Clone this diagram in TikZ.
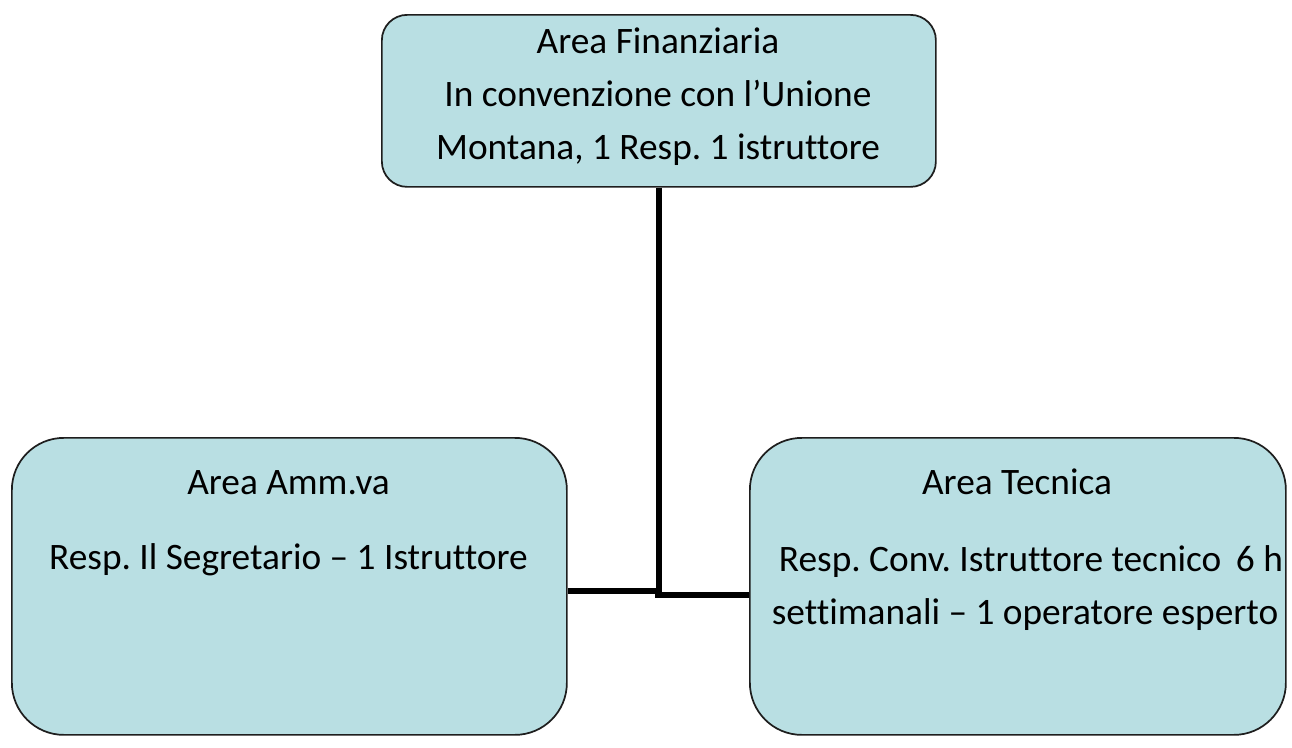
\documentclass[tikz,border=0pt]{standalone}
\usepackage{fontspec}
\setmainfont{Carlito}[Ligatures=NoCommon]
\frenchspacing
\definecolor{boxfill}{RGB}{185,223,227}
\definecolor{boxline}{RGB}{30,30,30}
\begin{document}
\begin{tikzpicture}[x=0.75pt,y=-0.75pt,
  box/.style={draw=boxline,line width=1.3pt,fill=boxfill,inner sep=0pt,anchor=north west},
  txt/.style={font=\fontsize{28}{34}\selectfont,anchor=base,inner sep=0pt},
  conn/.style={line width=4.2pt}]
\useasboundingbox (0,0) rectangle (1292,747);
\node[box,rounded corners=19pt,minimum width=554*0.75pt,minimum height=172*0.75pt] (fin) at (381,14) {};
\node[box,rounded corners=39pt,minimum width=555*0.75pt,minimum height=297*0.75pt] (amm) at (11,437) {};
\node[box,rounded corners=39pt,minimum width=536*0.75pt,minimum height=297*0.75pt] (tec) at (749,437) {};
\node[txt] (f1) at (658,53) {Area Finanziaria};
\node[txt] (f2) at (658,106) {In convenzione con l’Unione};
\node[txt] (f3) at (658,159) {Montana, 1 Resp. 1 istruttore};
\node[txt] (a1) at (288.5,494) {Area Amm.va};
\node[txt] (a2) at (288.5,569) {Resp. Il Segretario – 1 Istruttore};
\node[txt] (t1) at (1017,494) {Area Tecnica};
\node[txt] (t2) at (1031,571) {Resp. Conv. Istruttore tecnico \,6 h};
\node[txt] (t3) at (1025,624) {settimanali – 1 operatore esperto};
\coordinate (j1) at (658,591);
\coordinate (j2) at (658,595);
\draw[conn] (fin.south) -- (fin.south |- j2);
\draw[conn] (amm.east |- j1) -- ([xshift=2.1pt]j1);
\draw[conn] ([xshift=-2.1pt]j2) -- (tec.west |- j2);
\end{tikzpicture}
\end{document}
